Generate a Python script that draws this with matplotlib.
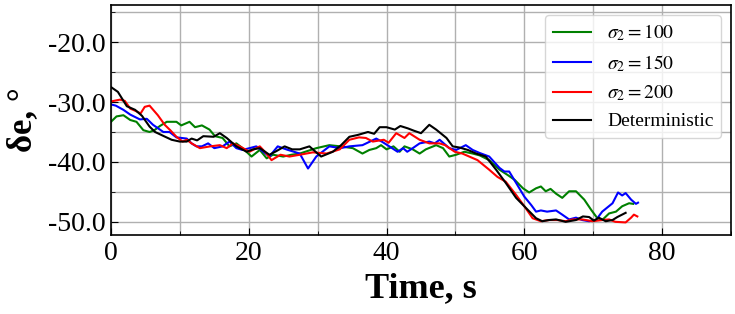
import matplotlib
matplotlib.use('Agg')
import matplotlib.pyplot as plt
from matplotlib.ticker import MultipleLocator, FormatStrFormatter

plt.rcParams['font.family'] = 'Liberation Serif'
plt.rcParams['mathtext.fontset'] = 'stix'
plt.rcParams['axes.unicode_minus'] = False

# sigma2 = 100
t_100 = [0, 0.8, 1.8, 2.8, 3.7, 4.7, 5.6, 6.3, 7.1, 8.1, 9.5, 10.2, 11.4, 12.2, 13.2, 14.3, 15.1, 16.2,
         17.2, 18.2, 19.1, 20.4, 21.6, 22.6, 23.5, 25, 26.2, 27.4, 29.8, 31.7, 33.3, 35.1, 36.5, 37.5,
         38.5, 39.2, 40, 41, 41.9, 42.6, 43.8, 44.8, 45.7, 47.2, 48.2, 49.1, 50.1, 51.3, 52.5, 53.5,
         54.9, 56.4, 57.6, 58.6, 59.8, 60.7, 61.7, 62.4, 63.1, 63.8, 64.6, 65.5, 66.5, 67.5, 68.7, 69.7,
         70.6, 71.3, 72.3, 73.3, 74.2, 75.2, 75.8]
de_100 = [-33.3, -32.4, -32.2, -33.0, -33.3, -34.7, -35.0, -34.7, -34.0, -33.3, -33.3, -33.9, -33.3, -34.2,
          -33.9, -34.6, -35.7, -36.0, -37.4, -36.9, -37.7, -39.1, -38.0, -39.4, -38.8, -39.1, -38.8, -38.6,
          -37.7, -37.2, -37.4, -37.7, -38.6, -38.0, -37.7, -37.2, -37.9, -37.4, -38.3, -37.4, -37.9, -38.6,
          -37.9, -37.2, -37.7, -39.1, -38.8, -38.3, -38.6, -38.9, -39.7, -41.3, -42.2, -43.0, -44.4, -45.1,
          -44.4, -44.1, -44.9, -44.5, -45.3, -46.0, -44.9, -44.9, -46.3, -48.0, -49.4, -49.7, -48.6, -48.3,
          -47.4, -46.9, -47.0]

# sigma2 = 150
t_150 = [0, 0.7, 1.8, 2.8, 4.2, 5.2, 6.1, 7.6, 8.5, 9.5, 11, 11.7, 12.4, 13.2, 14.1, 15, 16.2, 17.2, 18.2,
         19.1, 21.1, 23, 24.2, 25.7, 27.4, 28.6, 29.8, 31.7, 33.3, 34.6, 36.5, 38.5, 39.3, 40.4, 41.6, 42.4,
         43, 43.8, 44.8, 46.2, 47, 47.7, 49.1, 50.1, 51.5, 52.5, 53.5, 54.9, 56.4, 57.1, 57.8, 58.8, 60, 61,
         61.7, 62.4, 63.3, 64.6, 65.5, 66.5, 67.5, 68.4, 69.4, 70.4, 71.3, 72.8, 73.6, 74.2, 74.7, 75.5,
         76.2, 76.5]
de_150 = [-30.4, -30.6, -31.3, -32.1, -32.9, -32.8, -33.8, -35.0, -35.0, -35.9, -36.1, -36.9, -37.4, -37.4,
          -36.9, -37.7, -37.4, -36.6, -37.7, -38.0, -37.4, -39.1, -37.4, -38.0, -38.6, -41.1, -39.1, -37.4,
          -37.7, -37.4, -37.2, -36.1, -36.6, -37.4, -38.3, -37.7, -38.3, -37.7, -36.9, -36.6, -36.9, -36.3,
          -37.7, -38.0, -37.2, -38.0, -38.5, -39.1, -41.0, -41.6, -41.6, -43.5, -45.8, -47.2, -48.3, -48.1,
          -48.3, -48.1, -48.8, -49.6, -49.3, -49.7, -49.9, -49.7, -48.3, -46.9, -45.1, -45.6, -45.2, -46.3,
          -47.0, -46.8]

# sigma2 = 200
t_200 = [0, 1.3, 2, 2.8, 3.6, 4.3, 4.9, 5.6, 6.8, 7.8, 8.6, 9.5, 10.4, 11, 11.7, 12.9, 14.4, 15.8, 16.8,
         17.7, 18.7, 20.1, 21.6, 22.5, 23.3, 24.6, 25.9, 27.4, 29.3, 31.3, 33.2, 34.6, 36, 37, 38, 39.6,
         40.3, 41.4, 42.6, 43.3, 44.8, 46.2, 47.7, 48.5, 49.9, 51, 52, 53.2, 54.9, 56.1, 57.3, 58.8, 60,
         61.2, 62.4, 63.6, 64.8, 66, 67, 68.4, 69.9, 71.3, 72.3, 73.2, 74.7, 75.5, 75.9, 76.4]
de_200 = [-29.9, -29.6, -29.8, -31.1, -31.5, -31.9, -30.8, -30.6, -32.2, -33.8, -34.7, -35.8, -36.6, -36.3,
          -36.9, -37.7, -37.4, -37.2, -37.7, -36.9, -37.4, -38.3, -37.4, -38.5, -39.7, -38.8, -39.1, -38.8,
          -38.4, -38.6, -37.9, -36.3, -35.9, -36.0, -36.6, -36.3, -36.8, -35.2, -36.0, -35.2, -36.3, -36.9,
          -36.9, -37.2, -38.3, -38.6, -39.1, -39.7, -41.3, -42.5, -43.3, -45.5, -47.4, -49.4, -49.9, -49.7,
          -49.7, -49.9, -49.6, -49.6, -49.9, -49.7, -49.6, -50.0, -50.1, -49.3, -48.8, -49.1]

# deterministic
t_det = [0, 1, 2.3, 3.5, 4.5, 5.6, 6.4, 7.5, 8.8, 10, 11, 11.7, 12.5, 13.4, 14.9, 15.8, 16.8, 18.2, 19.7,
         20.6, 21.6, 23, 24, 25.2, 26.3, 27.4, 28.8, 30.5, 32.2, 33.4, 34.6, 35.8, 37.3, 38.2, 39, 40,
         41.2, 42, 43.1, 44, 45, 46.2, 47.2, 48.7, 49.6, 50.6, 51.8, 53, 54.4, 55.9, 57.3, 58.8, 60.5,
         61.7, 62.6, 63.6, 64.6, 66, 67.5, 68.5, 69.4, 70.1, 70.8, 71.8, 72.8, 73.5, 74.7]
de_det = [-27.5, -28.3, -30.7, -31.3, -32.3, -34.1, -35.0, -35.6, -36.3, -36.6, -36.6, -36.1, -36.4, -35.7,
          -35.8, -35.2, -36.0, -37.4, -38.3, -37.9, -37.7, -38.8, -38.2, -37.4, -37.9, -37.9, -37.4, -39.1,
          -38.3, -37.2, -35.8, -35.5, -35.0, -35.3, -34.2, -34.2, -34.6, -34.0, -34.4, -34.8, -35.2, -33.8,
          -34.6, -36.0, -37.4, -37.6, -38.0, -38.6, -39.1, -41.3, -43.5, -46.0, -48.0, -49.4, -49.9, -49.7,
          -49.6, -50.0, -49.7, -49.1, -49.2, -49.8, -49.3, -49.9, -49.7, -49.2, -48.5]

fig = plt.figure(figsize=(7.35, 3.14), dpi=100)
ax = fig.add_axes([0.151, 0.2516, 0.8436, 0.7324])

ax.plot(t_100, de_100, color='green', lw=1.5, label=r'$\sigma_2 = 100$')
ax.plot(t_150, de_150, color='blue', lw=1.5, label=r'$\sigma_2 = 150$')
ax.plot(t_200, de_200, color='red', lw=1.5, label=r'$\sigma_2 = 200$')
ax.plot(t_det, de_det, color='black', lw=1.5, label='Deterministic')

ax.set_xlim(0, 90)
ax.set_ylim(-52.2, -13.8)
ax.xaxis.set_major_locator(MultipleLocator(20))
ax.xaxis.set_minor_locator(MultipleLocator(10))
ax.yaxis.set_major_locator(MultipleLocator(10))
ax.yaxis.set_minor_locator(MultipleLocator(5))
ax.yaxis.set_major_formatter(FormatStrFormatter('%.1f'))
ax.tick_params(which='both', direction='in', labelsize=20)
ax.tick_params(which='major', length=5, pad=4)
ax.tick_params(which='minor', length=3)
ax.grid(True, which='both', color='#b0b0b0', lw=1)
ax.set_axisbelow(True)
for s in ax.spines.values():
    s.set_linewidth(1.2)

ax.set_xlabel('Time, s', fontsize=26, fontweight='bold', labelpad=5)
ax.set_ylabel('δe, °', fontsize=25, fontweight='bold', labelpad=6)
ax.legend(loc='upper right', fontsize=14, borderaxespad=0.5)

fig.savefig('out.png', dpi=100)
